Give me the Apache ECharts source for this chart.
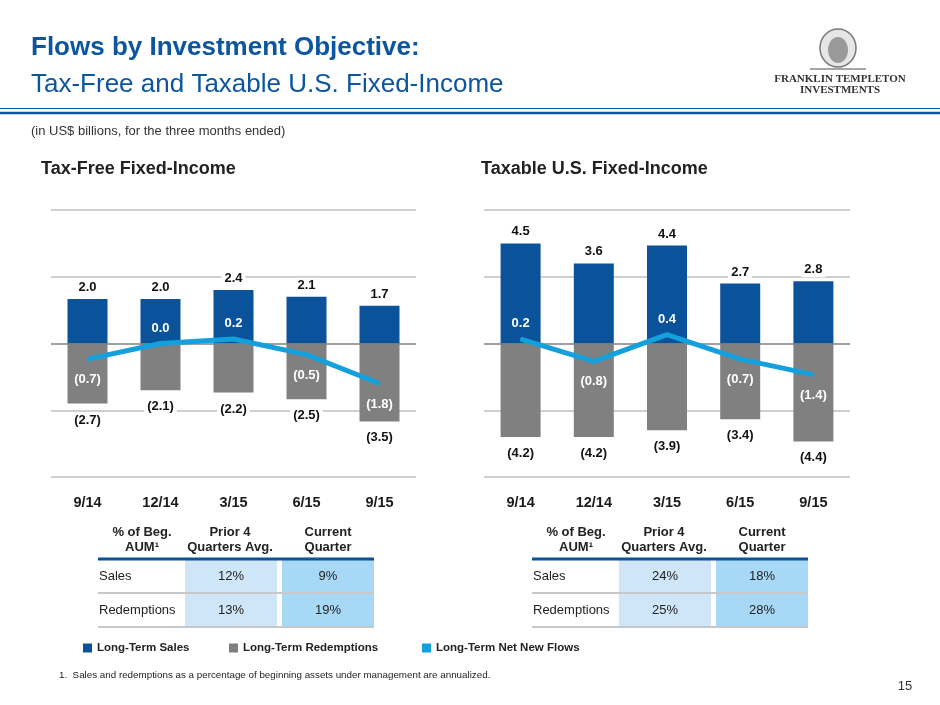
<!DOCTYPE html>
<html>
<head>
<meta charset="utf-8">
<script src="https://cdn.jsdelivr.net/npm/echarts@6/dist/echarts.min.js"></script>
<style>
html, body { margin: 0; padding: 0; background: #fff; }
#slide { width: 940px; height: 705px; }
</style>
</head>
<body>
<div id="slide"></div>
<script>
var quarters = ['9/14', '12/14', '3/15', '6/15', '9/15'];
var taxFreeSales = [2.0, 2.0, 2.4, 2.1, 1.7];
var taxFreeRedemptions = [-2.7, -2.1, -2.2, -2.5, -3.5];
var taxFreeNet = [-0.7, 0.0, 0.2, -0.5, -1.8];
var taxableSales = [4.5, 3.6, 4.4, 2.7, 2.8];
var taxableRedemptions = [-4.2, -4.2, -3.9, -3.4, -4.4];
var taxableNet = [0.2, -0.8, 0.4, -0.7, -1.4];

var tableHeads = ['% of Beg.\nAUM¹', 'Prior 4\nQuarters Avg.', 'Current\nQuarter'];
var tableRows = ['Sales', 'Redemptions'];
var taxFreePrior = ['12%', '13%'];
var taxFreeCurrent = ['9%', '19%'];
var taxablePrior = ['24%', '25%'];
var taxableCurrent = ['18%', '28%'];

var BLUE = '#0a5299';
var GREY = '#808080';
var CYAN = '#13a0dc';
var SANS = '"Liberation Sans", Arial, sans-serif';

// (1.2) for negatives, 1.2 otherwise
function fmt(v) {
	return v < 0 ? '(' + Math.abs(v).toFixed(1) + ')' : v.toFixed(1);
}

function chartSeries(idx, sales, redemptions, net) {
	let lbl = { fontFamily: SANS, fontWeight: 'bold', fontSize: 13, color: '#111' };
	return [
		{
			name: 'Long-Term Sales', type: 'bar', xAxisIndex: idx, yAxisIndex: idx,
			data: sales, barWidth: 40, color: BLUE,
			label: { show: true, position: 'top', distance: 4, backgroundColor: '#fff', padding: [1, 3],
				formatter: p => fmt(p.value), ...lbl }
		},
		{
			name: 'Long-Term Redemptions', type: 'bar', xAxisIndex: idx, yAxisIndex: idx,
			data: redemptions, barWidth: 40, barGap: '-100%', color: GREY,
			label: { show: true, position: 'bottom', distance: 9, backgroundColor: '#fff', padding: [1, 3],
				formatter: p => fmt(p.value), ...lbl }
		},
		{
			name: 'Long-Term Net New Flows', type: 'line', xAxisIndex: idx, yAxisIndex: idx,
			data: net.map(v => ({ value: v, label: { position: v < 0 ? 'bottom' : 'top', distance: v < 0 ? 13 : 8 } })),
			color: CYAN, z: 4, symbol: 'circle', symbolSize: 2,
			lineStyle: { width: 5, color: CYAN },
			label: { show: true, formatter: p => fmt(p.value), ...lbl, color: '#fff' }
		}
	];
}

function axisPair(idx) {
	return {
		x: {
			type: 'category', gridIndex: idx, data: quarters,
			axisLine: { show: false }, axisTick: { show: false },
			axisLabel: { margin: 18, fontFamily: SANS, fontWeight: 'bold', fontSize: 14.5, color: '#1a1a1a' }
		},
		y: {
			type: 'value', gridIndex: idx, min: -6, max: 6, interval: 3,
			axisLabel: { show: false }, axisLine: { show: false }, axisTick: { show: false },
			splitLine: { show: true, lineStyle: { width: 2, color: ['#cfcfcf', '#cfcfcf', '#9f9f9f', '#cfcfcf', '#cfcfcf'] } }
		}
	};
}

function txt(text, x, y, font, fill, align) {
	return { type: 'text', x: x, y: y, silent: true,
		style: { text: text, font: font, fill: fill || '#222', textAlign: align || 'left', textVerticalAlign: 'middle' } };
}

function hline(x1, x2, y, w, c) {
	return { type: 'line', silent: true, shape: { x1: x1, y1: y, x2: x2, y2: y }, style: { stroke: c, lineWidth: w } };
}

function tableGraphics(x0, prior, current) {
	let g = [];
	g.push({ type: 'rect', silent: true, shape: { x: x0 + 87, y: 560, width: 92, height: 67 }, style: { fill: '#cfe5f8' } });
	g.push({ type: 'rect', silent: true, shape: { x: x0 + 184, y: 560, width: 92, height: 67 }, style: { fill: '#a7d8f5' } });
	let heads = [x0 + 44, x0 + 132, x0 + 230];
	tableHeads.forEach((h, i) => {
		g.push({ type: 'text', x: heads[i], y: 540, silent: true,
			style: { text: h, font: 'bold 13px ' + SANS, fill: '#222', textAlign: 'center', textVerticalAlign: 'middle', lineHeight: 15 } });
	});
	g.push(hline(x0, x0 + 276, 559, 3, BLUE));
	g.push(hline(x0, x0 + 276, 593, 2, '#c8c8c8'));
	g.push(hline(x0, x0 + 276, 627, 2, '#c8c8c8'));
	tableRows.forEach((r, i) => {
		let y = 576 + i * 34;
		g.push(txt(r, x0 + 1, y, '13px ' + SANS, '#222', 'left'));
		g.push(txt(prior[i], x0 + 133, y, '13px ' + SANS, '#222', 'center'));
		g.push(txt(current[i], x0 + 230, y, '13px ' + SANS, '#222', 'center'));
	});
	return g;
}

var a = axisPair(0), b = axisPair(1);
var graphics = [
	txt('Flows by Investment Objective:', 31, 48, 'bold 26px ' + SANS, '#0c56a0'),
	txt('Tax-Free and Taxable U.S. Fixed-Income', 31, 85, '26px ' + SANS, '#0c56a0'),
	hline(0, 940, 108.5, 1, '#0c56a0'),
	hline(0, 940, 113, 2.5, '#0c56a0'),
	txt('(in US$ billions, for the three months ended)', 31, 131, '13px ' + SANS, '#333'),
	txt('Tax-Free Fixed-Income', 41, 169, 'bold 18px ' + SANS, '#222'),
	txt('Taxable U.S. Fixed-Income', 481, 169, 'bold 18px ' + SANS, '#222'),
	txt('1.  Sales and redemptions as a percentage of beginning assets under management are annualized.', 59, 675, '9.8px ' + SANS, '#222'),
	txt('15', 905, 686, '13px ' + SANS, '#333', 'center'),
	// logo
	{ type: 'ellipse', silent: true, shape: { cx: 838, cy: 48, rx: 18, ry: 19 }, style: { fill: '#e6e6e6', stroke: '#777', lineWidth: 1.5 } },
	{ type: 'ellipse', silent: true, shape: { cx: 838, cy: 50, rx: 10, ry: 13 }, style: { fill: '#9a9a9a' } },
	hline(810, 866, 69, 1.5, '#888'),
	txt('FRANKLIN TEMPLETON', 840, 79, 'bold 11px "Liberation Serif", serif', '#333', 'center'),
	txt('INVESTMENTS', 840, 90, 'bold 11px "Liberation Serif", serif', '#333', 'center')
].concat(tableGraphics(98, taxFreePrior, taxFreeCurrent), tableGraphics(532, taxablePrior, taxableCurrent));

var legendBase = { orient: 'horizontal', top: 637, icon: 'rect', itemWidth: 9, itemHeight: 9, itemGap: 5,
	selectedMode: false, textStyle: { fontFamily: SANS, fontWeight: 'bold', fontSize: 11.5, color: '#222' } };

var option = {
	animation: false,
	backgroundColor: '#fff',
	textStyle: { fontFamily: SANS },
	grid: [
		{ left: 51, right: 940 - 416, top: 210, bottom: 705 - 477 },
		{ left: 484, right: 940 - 850, top: 210, bottom: 705 - 477 }
	],
	xAxis: [a.x, b.x],
	yAxis: [a.y, b.y],
	legend: [
		{ ...legendBase, left: 78, data: ['Long-Term Sales'] },
		{ ...legendBase, left: 224, data: ['Long-Term Redemptions'] },
		{ ...legendBase, left: 417, data: ['Long-Term Net New Flows'] }
	],
	graphic: graphics,
	series: chartSeries(0, taxFreeSales, taxFreeRedemptions, taxFreeNet)
		.concat(chartSeries(1, taxableSales, taxableRedemptions, taxableNet))
};

var chart = echarts.init(document.getElementById('slide'));
chart.setOption(option);
</script>
</body>
</html>
